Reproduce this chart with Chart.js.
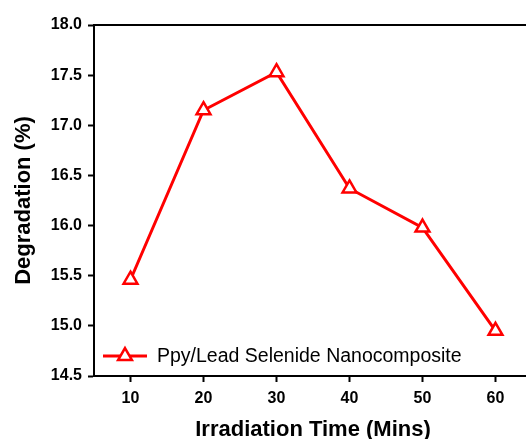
<!DOCTYPE html>
<html>
<head>
<meta charset="utf-8">
<script src="https://cdn.jsdelivr.net/npm/chart.js@4.4.0/dist/chart.umd.min.js"></script>
<style>
  body { margin: 0; background: #fff; overflow: hidden; }
  #outer { width: 526px; height: 439px; overflow: hidden; position: relative; }
  #wrap { width: 532px; height: 439px; position: absolute; left: 0; top: 0; }
</style>
</head>
<body>
<div id="outer"><div id="wrap"><canvas id="chartjs-0"></canvas></div></div>
<script>
"use strict";

// values
var irradiationTime = [10, 20, 30, 40, 50, 60];
var degradation = [15.46, 17.15, 17.53, 16.37, 15.98, 14.95];
var xTicks = [10, 20, 30, 40, 50, 60];
var yTicks = [14.5, 15.0, 15.5, 16.0, 16.5, 17.0, 17.5, 18.0];
var seriesName = "Ppy/Lead Selenide Nanocomposite";

var points = [];
for (let i = 0; i < irradiationTime.length; i++) {
  points.push({ x: irradiationTime[i], y: degradation[i] });
}

/* top frame line + legend inside the plot, bottom left */
var framePlugin = {
  id: "framePlugin",
  afterDatasetsDraw: function (chart) {
    var ctx = chart.ctx;
    var area = chart.chartArea;
    var ds = chart.data.datasets[0];
    ctx.save();
    ctx.strokeStyle = "#000";
    ctx.lineWidth = 2;
    ctx.beginPath();
    ctx.moveTo(area.left - 1, area.top);
    ctx.lineTo(area.right, area.top);
    ctx.stroke();

    // legend
    var ly = area.bottom - 20;
    var lx = area.left + 9;
    var r = ds.pointRadius;
    ctx.strokeStyle = ds.borderColor;
    ctx.lineWidth = ds.borderWidth;
    ctx.beginPath();
    ctx.moveTo(lx, ly);
    ctx.lineTo(lx + 44, ly);
    ctx.stroke();
    ctx.fillStyle = "#fff";
    ctx.lineWidth = ds.pointBorderWidth;
    ctx.beginPath();
    ctx.moveTo(lx + 22, ly - r);
    ctx.lineTo(lx + 22 + 0.866 * r, ly + 0.5 * r);
    ctx.lineTo(lx + 22 - 0.866 * r, ly + 0.5 * r);
    ctx.closePath();
    ctx.fill();
    ctx.stroke();
    ctx.fillStyle = "#000";
    ctx.font = "19.5px 'Liberation Sans', Arial, sans-serif";
    ctx.textBaseline = "middle";
    ctx.textAlign = "left";
    ctx.fillText(seriesName, lx + 54, ly + 1);
    ctx.restore();
  }
};

let ctx0 = document.getElementById("chartjs-0");
var myChart = new Chart(ctx0, {
  type: "line",
  data: {
    datasets: [
      {
        label: seriesName,
        data: points,
        fill: false,
        borderColor: "#ff0000",
        borderWidth: 3,
        pointStyle: "triangle",
        pointRadius: 8,
        pointBorderWidth: 2.5,
        pointBorderColor: "#ff0000",
        pointBackgroundColor: "#ffffff",
        lineTension: 0
      }
    ]
  },
  options: {
    responsive: true,
    maintainAspectRatio: false,
    animation: false,
    layout: { autoPadding: false, padding: { top: 25, left: 0, right: 0, bottom: 0 } },
    plugins: {
      legend: { display: false },
      tooltip: { enabled: false }
    },
    scales: {
      x: {
        type: "linear",
        min: 5,
        max: 65,
        afterFit: function (scale) {
          scale.height = 63;
          scale.paddingLeft = 0;
          scale.paddingRight = 0;
        },
        afterBuildTicks: function (scale) {
          scale.ticks = xTicks.map(function (v) { return { value: v }; });
        },
        border: { display: true, color: "#000", width: 2 },
        grid: { display: true, drawOnChartArea: false, drawTicks: true, tickLength: 6, tickWidth: 2, tickColor: "#000" },
        ticks: {
          color: "#000",
          padding: 7,
          maxRotation: 0,
          font: { family: "'Liberation Sans', Arial, sans-serif", size: 16, weight: "bold" }
        },
        title: {
          display: true,
          text: "Irradiation Time (Mins)",
          color: "#000",
          padding: { top: 0, bottom: -4 },
          font: { family: "'Liberation Sans', Arial, sans-serif", size: 22, weight: "bold" }
        }
      },
      y: {
        min: 14.5,
        max: 18,
        afterFit: function (scale) {
          scale.width = 94;
          scale.paddingTop = 0;
          scale.paddingBottom = 0;
        },
        afterBuildTicks: function (scale) {
          scale.ticks = yTicks.map(function (v) { return { value: v }; });
        },
        border: { display: true, color: "#000", width: 2 },
        grid: { display: true, drawOnChartArea: false, drawTicks: true, tickLength: 6, tickWidth: 2, tickColor: "#000" },
        ticks: {
          color: "#000",
          padding: 6,
          callback: function (v) { return Number(v).toFixed(1); },
          font: { family: "'Liberation Sans', Arial, sans-serif", size: 16, weight: "bold" }
        },
        title: {
          display: true,
          text: "Degradation (%)",
          color: "#000",
          padding: { top: 11, bottom: 0 },
          font: { family: "'Liberation Sans', Arial, sans-serif", size: 22, weight: "bold" }
        }
      }
    }
  },
  plugins: [framePlugin]
});
</script>
</body>
</html>
